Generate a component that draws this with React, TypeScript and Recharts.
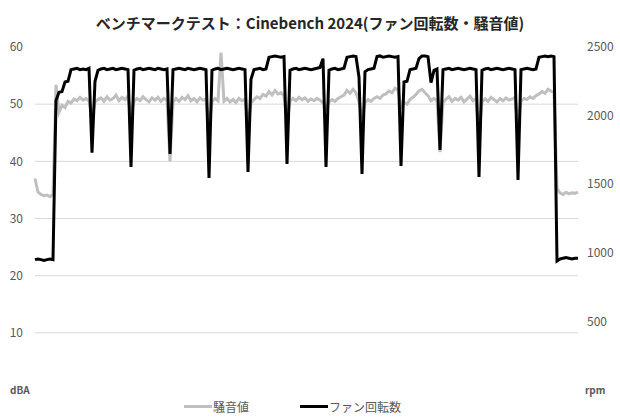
import { Legend, Line, LineChart, ReferenceLine, XAxis, YAxis } from "recharts"

const chartTitle = "ベンチマークテスト：Cinebench 2024(ファン回転数・騒音値)"
const noiseName = "騒音値"
const fanName = "ファン回転数"
const legendOrder = [noiseName, fanName]

// fan speed, rpm (one sample every ~3px of the original plot)
const fanRpm = [
  950, 955, 950, 945, 950, 955, 950,
  2110, 2170, 2175, 2245, 2250, 2335,
  2340, 2345, 2335, 2340, 2335, 2345,
  1730, 2250, 2330,
  2340, 2345, 2335, 2340, 2345, 2335, 2340, 2345, 2340, 2335,
  1625, 2330,
  2340, 2345, 2335, 2340, 2345, 2340, 2335, 2345, 2340, 2335, 2340,
  1720, 2335,
  2340, 2345, 2340, 2335, 2345, 2340, 2335, 2340, 2345, 2340, 2335,
  1545, 2330,
  2340, 2345, 2335, 2340, 2345, 2340, 2335, 2340, 2345, 2340, 2335,
  1590, 2265,
  2335, 2340, 2345, 2335, 2340,
  2425, 2430, 2435, 2430, 2425, 2430,
  1647, 2330,
  2340, 2345, 2335, 2340, 2345, 2340, 2335, 2340, 2345, 2350,
  2415, 1625, 2330,
  2340, 2345, 2335, 2340, 2345,
  2425, 2430, 2435, 2430,
  2280, 1574, 2320,
  2335, 2340, 2345,
  2430, 2435, 2425, 2430, 2435, 2430, 2425, 2430,
  1633, 2245, 2250,
  2335, 2340, 2345,
  2415, 2435, 2435, 2430,
  2240, 2330, 2340,
  1750, 2335,
  2340, 2345, 2335, 2340, 2345, 2340, 2335, 2340, 2345, 2340, 2335,
  1553, 2330,
  2340, 2345, 2335, 2340, 2345, 2340, 2335, 2340, 2345, 2340, 2335,
  1530,
  2335, 2340, 2345, 2340, 2335, 2340,
  2425, 2430, 2435, 2430, 2435, 2430,
  940,
  955, 960, 965, 960, 955, 960, 960,
]

// noise level, dBA
const noiseDba = [
  37.0, 34.6, 34.2, 34.0, 34.1, 33.8, 34.2,
  53.4, 48.6, 49.8, 49.4, 50.5, 50.2,
  50.9, 50.6, 51.2, 50.7, 51.0, 50.6,
  47.5, 50.4, 50.8,
  51.1, 50.5, 51.3, 50.7, 51.0, 51.6, 50.6, 51.2, 50.8, 51.4,
  48.0, 50.5,
  51.0, 50.6, 51.3, 50.8, 50.4, 51.1, 50.7, 51.2, 50.5, 51.0, 50.7,
  40.0, 50.3,
  51.0, 50.5, 51.2, 50.8, 51.5, 50.6, 51.0, 50.4, 51.1, 50.7, 50.9,
  46.0, 50.4,
  51.0, 50.6, 59.0, 50.5, 51.0, 50.4, 50.8, 50.3, 51.0, 50.6, 50.9,
  46.5, 50.2,
  50.8, 51.3, 51.0, 51.7, 51.4,
  52.2, 51.6, 52.4, 51.8, 52.0, 51.5,
  47.0, 50.6,
  51.0, 50.6, 51.2, 50.8, 51.1, 50.5, 50.9, 50.6, 51.0, 50.7,
  50.2, 49.3, 50.4,
  50.8, 50.5, 51.0, 51.3, 51.6,
  52.4, 51.9, 52.6, 52.0,
  50.4, 47.5, 50.3,
  50.8, 50.5, 51.0,
  51.3, 51.0, 51.6, 51.8, 52.3, 52.0, 52.8, 52.5,
  49.5, 50.3, 50.0,
  50.8, 51.2, 51.7,
  52.3, 52.6, 52.0, 51.5,
  50.6, 51.0, 50.7,
  41.6, 50.3,
  50.9, 51.3, 50.5, 51.0, 50.7, 51.2, 50.4, 50.9, 51.4, 50.6, 51.0,
  45.0, 50.4,
  50.9, 50.5, 51.2, 50.8, 50.4, 51.0, 50.6, 51.1, 50.7, 50.9, 51.2,
  46.0,
  50.6, 51.0, 50.8, 51.3, 51.0, 51.5,
  51.8, 52.2, 51.9, 52.6, 52.3, 52.0,
  35.2,
  34.5, 34.2, 34.6, 34.3, 34.5, 34.4, 34.6,
]

const dbaTicks = [0, 10, 20, 30, 40, 50, 60]
const rpmTicks = [0, 500, 1000, 1500, 2000, 2500]
const gridValues = [10, 20, 30, 40, 50]

const chartData = fanRpm.map((rpm, i) => ({ t: i, rpm, dba: noiseDba[i] }))

const FONT = "'Noto Sans CJK JP', 'Noto Sans', sans-serif"
const LABEL = "#595959"

function LeftTick({ x, y, payload }: any) {
  if (payload.value === 0) {
    return (
      <text x={10} y={y} dy="0.35em" fill={LABEL} fontSize={10} fontWeight="bold" fontFamily={FONT}>
        dBA
      </text>
    )
  }
  return (
    <text x={x} y={y} dy="0.35em" textAnchor="end" fill={LABEL} fontSize={12} fontFamily={FONT}>
      {payload.value}
    </text>
  )
}

function RightTick({ x, y, payload }: any) {
  if (payload.value === 0) {
    return (
      <text x={x - 2} y={y} dy="0.35em" fill={LABEL} fontSize={10} fontWeight="bold" fontFamily={FONT}>
        rpm
      </text>
    )
  }
  return (
    <text x={x} y={y} dy="0.35em" textAnchor="start" fill={LABEL} fontSize={12} fontFamily={FONT}>
      {payload.value}
    </text>
  )
}

function ChartLegend({ payload }: any) {
  const items = [...(payload || [])].sort(
    (a: any, b: any) => legendOrder.indexOf(a.value) - legendOrder.indexOf(b.value)
  )
  return (
    <div style={{ display: "flex", alignItems: "center", paddingLeft: 184, fontFamily: FONT, fontSize: 12, color: LABEL }}>
      {items.map((p: any, i: number) => (
        <div key={i} style={{ display: "flex", alignItems: "center", marginRight: 51 }}>
          <span style={{ display: "inline-block", width: 28, height: 3, background: p.color }} />
          <span style={{ marginLeft: 1 }}>{p.value}</span>
        </div>
      ))}
    </div>
  )
}

export default function App() {
  return (
    <div style={{ position: "absolute", left: 0, top: 0, width: 620, height: 420, background: "#fff" }}>
      <div
        style={{
          position: "absolute",
          top: 12,
          left: 0,
          width: 620,
          textAlign: "center",
          fontFamily: FONT,
          fontSize: 15,
          fontWeight: "bold",
          color: "#262626",
        }}
      >
        {chartTitle}
      </div>
      <LineChart width={620} height={420} data={chartData} margin={{ top: 47, right: 0, bottom: 30, left: 0 }}>
        <XAxis type="number" dataKey="t" domain={[0, fanRpm.length - 1]} hide />
        <YAxis
          yAxisId="left"
          domain={[0, 60]}
          ticks={dbaTicks}
          width={35}
          axisLine={false}
          tickLine={false}
          tickSize={0}
          tickMargin={12}
          tick={<LeftTick />}
          interval={0}
        />
        <YAxis
          yAxisId="right"
          orientation="right"
          domain={[0, 2500]}
          ticks={rpmTicks}
          width={42}
          axisLine={false}
          tickLine={false}
          tickSize={0}
          tickMargin={9}
          tick={<RightTick />}
          interval={0}
        />
        {gridValues.map((v) => (
          <ReferenceLine key={v} yAxisId="left" y={v} stroke="#d9d9d9" strokeWidth={1} />
        ))}
        <Line
          yAxisId="left"
          dataKey="dba"
          name={noiseName}
          stroke="#bfbfbf"
          strokeWidth={3}
          dot={false}
          type="linear"
          isAnimationActive={false}
        />
        <Line
          yAxisId="right"
          dataKey="rpm"
          name={fanName}
          stroke="#000000"
          strokeWidth={3}
          dot={false}
          type="linear"
          isAnimationActive={false}
        />
        <Legend
          verticalAlign="middle"
          align="center"
          wrapperStyle={{ top: 398, left: 0, width: 620 }}
          content={<ChartLegend />}
        />
      </LineChart>
    </div>
  )
}
